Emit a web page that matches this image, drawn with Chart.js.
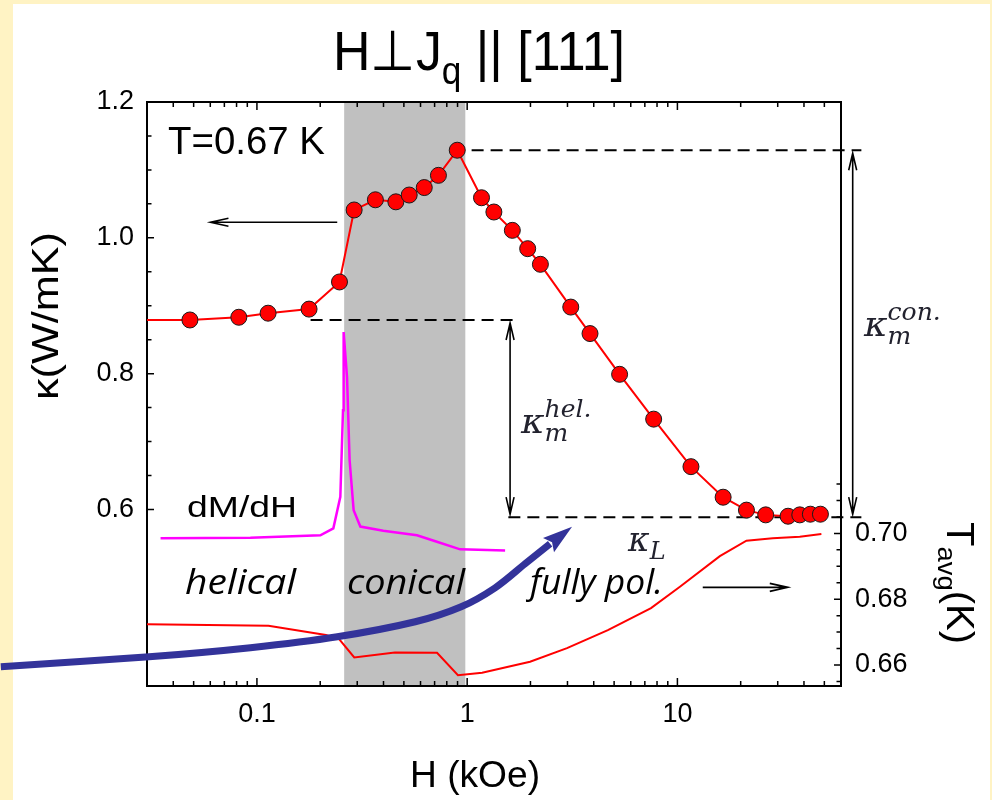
<!DOCTYPE html>
<html>
<head>
<meta charset="utf-8">
<script src="https://cdn.jsdelivr.net/npm/chart.js@4/dist/chart.umd.min.js"></script>
<style>
  html, body { margin: 0; padding: 0; background: #fff3c4; }
  canvas { display: block; }
</style>
</head>
<body>
<canvas id="c" width="992" height="800"></canvas>
<script>
// thermal conductivity vs field (first entry is where the line meets the axis)
const fieldK = [0.03, 0.048, 0.082, 0.113, 0.177, 0.247, 0.29, 0.366, 0.458, 0.53, 0.625, 0.73, 0.897,
  1.17, 1.34, 1.64, 1.94, 2.23, 3.11, 3.84, 5.31, 7.71, 11.6, 16.5, 21.3, 26.3, 33.6, 38.2, 42.9, 47.9];
const kappa = [0.879, 0.879, 0.883, 0.889, 0.895, 0.935, 1.041, 1.056, 1.053, 1.063, 1.074, 1.092, 1.129,
  1.059, 1.038, 1.011, 0.984, 0.961, 0.898, 0.859, 0.799, 0.733, 0.663, 0.618, 0.599, 0.592, 0.590, 0.592, 0.593, 0.593];

// average sample temperature (right axis)
const fieldT = [0.03, 0.1135, 0.213, 0.2466, 0.2904, 0.453, 0.719, 0.904, 1.178, 1.549, 1.991, 2.985, 4.67,
  7.49, 10.28, 15.92, 21.3, 28.4, 38.2, 48.4];
const tAvg = [0.6724, 0.6719, 0.6691, 0.6678, 0.6623, 0.6638, 0.6637, 0.6569, 0.6576, 0.6594, 0.6610, 0.6651,
  0.6706, 0.6773, 0.6838, 0.6931, 0.6978, 0.6985, 0.6990, 0.6998];

// dM/dH, arbitrary units
const fieldM = [0.0348, 0.0931, 0.2003, 0.2309, 0.2493, 0.2567, 0.2585, 0.2683, 0.2759, 0.2884, 0.3103,
  0.399, 0.577, 0.718, 0.926, 1.515];
const dMdH = [0.253, 0.254, 0.258, 0.270, 0.324, 0.472, 0.606, 0.529, 0.387, 0.301, 0.273, 0.266, 0.258,
  0.247, 0.234, 0.232];

const xTicks = [0.1, 1, 10];
const kTicks = [0.6, 0.8, 1.0, 1.2];
const tTicks = [0.66, 0.68, 0.70];

const conical = [0.26, 0.98];
const kHel = 0.879, kCon = 1.129, kL = 0.5886;

// blue guide curve, (H, kappa) pairs; last pair is the arrow tip
const guideH = [0.00605, 0.0307, 0.0931, 0.2412, 0.566, 0.9365, 1.358, 1.886, 2.48, 3.154];
const guideK = [0.3685, 0.3830, 0.3964, 0.4125, 0.4346, 0.4567, 0.4846, 0.5200, 0.5494, 0.5744];

const SANS = '"Liberation Sans", Arial, sans-serif';
const SERIF = '"DejaVu Serif", serif';
const ITAL = '"Open Sans", "Noto Sans", sans-serif';

function runs(ctx, parts, x, y, width, rot) {
  let total = 0;
  parts.forEach(p => { ctx.font = p.font; p.w = ctx.measureText(p.t).width; total += p.w; });
  const sx = width ? width / total : 1;
  ctx.save();
  ctx.translate(x, y);
  if (rot) ctx.rotate(rot);
  ctx.scale(sx, 1);
  ctx.textBaseline = 'alphabetic';
  ctx.textAlign = 'left';
  let cx = 0;
  parts.forEach(p => {
    ctx.font = p.font;
    ctx.fillStyle = p.color || '#000';
    ctx.fillText(p.t, cx, p.dy || 0);
    cx += p.w;
  });
  ctx.restore();
}

function kappaLabel(ctx, x, y, sup, sub, big, small, supDy, subDy) {
  ctx.save();
  ctx.fillStyle = '#22222e';
  ctx.textBaseline = 'alphabetic';
  ctx.font = 'italic ' + big + 'px ' + SERIF;
  ctx.fillText('\u03ba', x, y);
  const w = ctx.measureText('\u03ba').width;
  ctx.font = 'italic ' + small + 'px ' + SERIF;
  if (sup) ctx.fillText(sup, x + w, y + supDy);
  if (sub) ctx.fillText(sub, x + w, y + subDy);
  ctx.restore();
}

function arrowHead(ctx, tx, ty, dx, dy, len, half) {
  const n = Math.hypot(dx, dy); dx /= n; dy /= n;
  ctx.moveTo(tx - dx * len - dy * half, ty - dy * len + dx * half);
  ctx.lineTo(tx, ty);
  ctx.lineTo(tx - dx * len + dy * half, ty - dy * len - dx * half);
}

const deco = {
  id: 'deco',
  beforeDraw(chart) {
    const { ctx, chartArea: a, scales: { x } } = chart;
    ctx.save();
    ctx.fillStyle = '#fff3c4';
    ctx.fillRect(0, 0, chart.width, chart.height);
    ctx.fillStyle = '#fff';
    ctx.fillRect(13, 4, 977, chart.height - 4);
    const x0 = x.getPixelForValue(conical[0]), x1 = x.getPixelForValue(conical[1]);
    ctx.fillStyle = '#c0c0c0';
    ctx.fillRect(x0, a.top, x1 - x0, a.bottom - a.top);
    ctx.restore();
  },
  beforeDatasetsDraw(chart) {
    const { ctx, scales: { x, y } } = chart;
    ctx.save();
    ctx.strokeStyle = '#000';
    ctx.lineWidth = 2;
    ctx.setLineDash([12, 7]);
    const dash = (h0, h1, k) => {
      ctx.beginPath();
      ctx.moveTo(x.getPixelForValue(h0), y.getPixelForValue(k));
      ctx.lineTo(x.getPixelForValue(h1), y.getPixelForValue(k));
      ctx.stroke();
    };
    dash(0.18, 1.66, kHel);
    dash(1.05, 75, kCon);
    dash(1.57, 75, kL);
    ctx.restore();
  },
  afterDatasetsDraw(chart) {
    const { ctx, chartArea: a, scales: { x, y, y2 } } = chart;
    ctx.save();

    // inward ticks on all four sides
    ctx.strokeStyle = '#000';
    ctx.lineWidth = 1.5;
    ctx.beginPath();
    for (let e = -2; e <= 1; e++) {
      for (let m = 1; m <= 9; m++) {
        const v = m * Math.pow(10, e);
        if (v < 0.0299 || v > 60.01) continue;
        const px = x.getPixelForValue(v), len = m === 1 ? 8 : 5;
        ctx.moveTo(px, a.bottom); ctx.lineTo(px, a.bottom - len);
        ctx.moveTo(px, a.top); ctx.lineTo(px, a.top + len);
      }
    }
    for (let i = 0; i <= 12; i++) {
      const v = 0.6 + i * 0.05, py = y.getPixelForValue(v);
      const len = i % 4 === 0 ? 7 : 4.5;
      ctx.moveTo(a.left, py); ctx.lineTo(a.left + len, py);
    }
    for (let i = 0; i <= 12; i++) {
      const v = 0.655 + i * 0.005, py = y2.getPixelForValue(v);
      const len = Math.round(v * 1000) % 20 === 0 ? 7 : 4.5;
      ctx.moveTo(a.right, py); ctx.lineTo(a.right - len, py);
    }
    ctx.stroke();

    // double arrows for the magnon contributions
    ctx.lineWidth = 1.6;
    const vArrow = (h, k0, k1) => {
      const px = x.getPixelForValue(h);
      const p0 = y.getPixelForValue(k0) + 3, p1 = y.getPixelForValue(k1) - 3;
      ctx.beginPath();
      ctx.moveTo(px, p0); ctx.lineTo(px, p1);
      arrowHead(ctx, px, p0, 0, -1, 17, 4);
      arrowHead(ctx, px, p1, 0, 1, 17, 4);
      ctx.stroke();
    };
    vArrow(1.6, kHel, kL);
    vArrow(68.2, kCon, kL);

    // axis pointers
    const hArrow = (h0, h1, py) => {
      const p0 = x.getPixelForValue(h0), p1 = x.getPixelForValue(h1);
      ctx.beginPath();
      ctx.moveTo(p0, py); ctx.lineTo(p1, py);
      arrowHead(ctx, p1, py, p1 - p0, 0, 18, 4);
      ctx.stroke();
    };
    hArrow(0.241, 0.0601, y.getPixelForValue(1.023));
    hArrow(13.2, 33.5, y2.getPixelForValue(0.6836));

    // text
    ctx.fillStyle = '#000';
    runs(ctx, [{ t: 'T=0.67 K', font: '38px ' + SANS }], 168, 154, 157);
    runs(ctx, [{ t: 'dM/dH', font: '30px ' + SANS }], 187, 517, 110);
    runs(ctx, [{ t: 'helical', font: 'italic 34px ' + ITAL }], 185, 594, 111);
    runs(ctx, [{ t: 'conical', font: 'italic 34px ' + ITAL }], 347, 594, 118);
    runs(ctx, [{ t: 'fully pol.', font: 'italic 34px ' + ITAL }], 530, 594, 133);

    kappaLabel(ctx, 521, 433, 'hel.', 'm', 36, 25, -16, 8);
    kappaLabel(ctx, 864, 336, 'con.', 'm', 36, 25, -16, 8);
    kappaLabel(ctx, 628, 551, null, 'L', 33, 24, 0, 8);

    // title
    runs(ctx, [
      { t: 'H\u22a5J', font: '56px ' + SANS },
      { t: 'q', font: '38px ' + SANS, dy: 14 },
      { t: ' || [111]', font: '56px ' + SANS }
    ], 333, 70, 292);

    // axis titles
    runs(ctx, [{ t: 'H (kOe)', font: '36px ' + SANS }], 410, 787, 130);
    runs(ctx, [{ t: '\u03ba(W/mK)', font: '36px ' + SANS }], 58, 400, 168, -Math.PI / 2);
    runs(ctx, [
      { t: 'T', font: '38px ' + SANS },
      { t: 'avg', font: '26px ' + SANS, dy: 9 },
      { t: '(K)', font: '38px ' + SANS }
    ], 947, 522, 122, Math.PI / 2);

    // blue guide curve (Catmull-Rom through the guide points) with arrow tip
    const pts = guideH.map((h, i) => [x.getPixelForValue(h), y.getPixelForValue(guideK[i])]);
    const tip = pts.pop();
    ctx.strokeStyle = '#33339a';
    ctx.fillStyle = '#33339a';
    ctx.lineWidth = 7;
    ctx.lineCap = 'butt';
    ctx.beginPath();
    ctx.moveTo(pts[0][0], pts[0][1]);
    for (let i = 0; i < pts.length - 1; i++) {
      const p0 = pts[Math.max(i - 1, 0)], p1 = pts[i], p2 = pts[i + 1];
      const p3 = i + 2 < pts.length ? pts[i + 2] : tip;
      ctx.bezierCurveTo(
        p1[0] + (p2[0] - p0[0]) / 6, p1[1] + (p2[1] - p0[1]) / 6,
        p2[0] - (p3[0] - p1[0]) / 6, p2[1] - (p3[1] - p1[1]) / 6,
        p2[0], p2[1]);
    }
    ctx.stroke();
    const last = pts[pts.length - 1];
    const dx = tip[0] - last[0], dy = tip[1] - last[1], n = Math.hypot(dx, dy);
    const ux = dx / n, uy = dy / n, len = n + 2, half = 9;
    ctx.beginPath();
    ctx.moveTo(tip[0], tip[1]);
    ctx.lineTo(tip[0] - ux * len - uy * half, tip[1] - uy * len + ux * half);
    ctx.lineTo(tip[0] - ux * len * 0.85, tip[1] - uy * len * 0.85);
    ctx.lineTo(tip[0] - ux * len + uy * half, tip[1] - uy * len - ux * half);
    ctx.closePath();
    ctx.fill();

    ctx.restore();
  }
};

const tickFont = { family: SANS, size: 27 };
const frame = { display: true, color: '#000', width: 2 };
const noGrid = { display: false, drawTicks: false };

new Chart(document.getElementById('c'), {
  type: 'line',
  data: {
    datasets: [
      {
        label: 'kappa',
        data: fieldK.map((h, i) => ({ x: h, y: kappa[i] })),
        yAxisID: 'y',
        borderColor: '#ff0000',
        borderWidth: 2,
        pointRadius: fieldK.map((h, i) => (i === 0 ? 0 : 8)),
        pointBackgroundColor: '#ff0000',
        pointBorderColor: '#1a1a1a',
        pointBorderWidth: 1,
        order: 0
      },
      {
        label: 'Tavg',
        data: fieldT.map((h, i) => ({ x: h, y: tAvg[i] })),
        yAxisID: 'y2',
        borderColor: '#ff0000',
        borderWidth: 2,
        pointRadius: 0,
        order: 1
      },
      {
        label: 'dM/dH',
        data: fieldM.map((h, i) => ({ x: h, y: dMdH[i] })),
        yAxisID: 'yM',
        borderColor: '#ff00ff',
        borderWidth: 2.5,
        pointRadius: 0,
        order: 2
      }
    ]
  },
  options: {
    responsive: false,
    animation: false,
    devicePixelRatio: 1,
    layout: { padding: 0 },
    plugins: { legend: { display: false }, tooltip: { enabled: false } },
    scales: {
      x: {
        type: 'logarithmic', position: 'bottom', min: 0.03, max: 60,
        grid: noGrid, border: frame,
        ticks: { font: tickFont, color: '#000', padding: 12, autoSkip: false, maxRotation: 0,
          callback: v => String(v) },
        afterBuildTicks: s => { s.ticks = xTicks.map(v => ({ value: v })); },
        afterFit: s => { s.height = 114; }
      },
      xTop: {
        type: 'logarithmic', position: 'top', min: 0.03, max: 60,
        grid: noGrid, border: frame, ticks: { display: false },
        afterFit: s => { s.height = 102; }
      },
      y: {
        type: 'linear', position: 'left', min: 0.34, max: 1.2,
        grid: noGrid, border: frame,
        ticks: { font: tickFont, color: '#000', padding: 13, callback: v => v.toFixed(1) },
        afterBuildTicks: s => { s.ticks = kTicks.map(v => ({ value: v })); },
        afterFit: s => { s.width = 147; }
      },
      y2: {
        type: 'linear', position: 'right', min: 0.6536, max: 0.8312,
        grid: noGrid, border: frame,
        ticks: { font: tickFont, color: '#000', padding: 14, callback: v => v.toFixed(2) },
        afterBuildTicks: s => { s.ticks = tTicks.map(v => ({ value: v })); },
        afterFit: s => { s.width = 151; }
      },
      yM: { type: 'linear', display: false, min: 0, max: 1 }
    }
  },
  plugins: [deco]
});
</script>
</body>
</html>
